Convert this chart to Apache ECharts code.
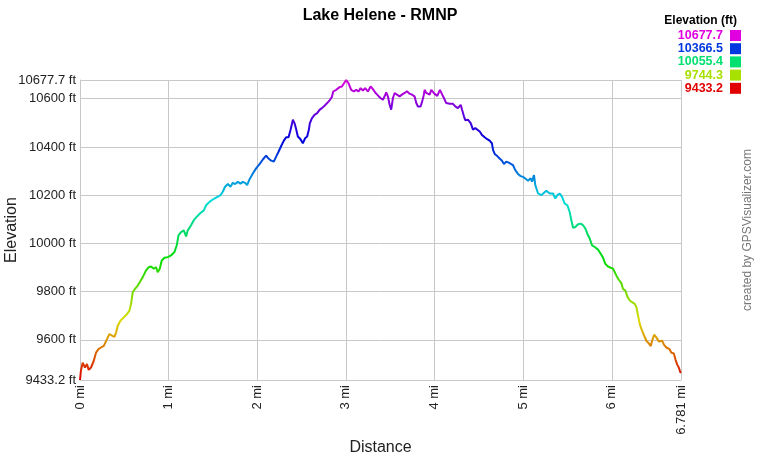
<!DOCTYPE html>
<html><head><meta charset="utf-8">
<script src="https://cdn.jsdelivr.net/npm/echarts@6/dist/echarts.min.js"></script>
<style>html,body{margin:0;padding:0;background:#fff}#c{width:760px;height:460px}</style>
</head><body><div id="c"></div>
<script>
const distanceMi = [0.00, 0.01, 0.03, 0.056, 0.079, 0.098, 0.124, 0.155, 0.181, 0.208, 0.237, 0.268, 0.282, 0.305, 0.332, 0.361, 0.388, 0.407, 0.426, 0.456, 0.501, 0.531, 0.558, 0.576, 0.595, 0.621, 0.651, 0.674, 0.708, 0.745, 0.776, 0.802, 0.832, 0.858, 0.877, 0.900, 0.922, 0.953, 0.990, 1.027, 1.066, 1.092, 1.111, 1.140, 1.171, 1.197, 1.216, 1.253, 1.284, 1.321, 1.359, 1.397, 1.423, 1.461, 1.498, 1.536, 1.585, 1.611, 1.637, 1.668,
  1.698, 1.724, 1.750, 1.781, 1.811, 1.837, 1.863, 1.886, 1.912, 1.950, 1.987, 2.026, 2.063, 2.100, 2.127, 2.157, 2.187, 2.213, 2.240, 2.270, 2.300, 2.326, 2.353, 2.376, 2.402, 2.421, 2.439, 2.458, 2.488, 2.514, 2.540, 2.563, 2.582, 2.593, 2.616, 2.646, 2.676, 2.703, 2.729, 2.759, 2.789, 2.816, 2.842, 2.857, 2.891, 2.929, 2.955, 2.977, 3.003, 3.030, 3.060, 3.090, 3.116, 3.143, 3.166, 3.192, 3.218, 3.248, 3.279, 3.305, 3.331, 3.361,
  3.392, 3.418, 3.437, 3.455, 3.474, 3.493, 3.511, 3.531, 3.550, 3.576, 3.606, 3.632, 3.663, 3.689, 3.718, 3.745, 3.775, 3.794, 3.813, 3.843, 3.861, 3.880, 3.888, 3.907, 3.926, 3.945, 3.963, 3.982, 4.001, 4.031, 4.061, 4.080, 4.087, 4.106, 4.132, 4.171, 4.208, 4.234, 4.264, 4.295, 4.310, 4.332, 4.347, 4.377, 4.408, 4.434, 4.460, 4.482, 4.510, 4.535, 4.566, 4.595, 4.622, 4.648, 4.660, 4.679, 4.708, 4.735, 4.761, 4.784, 4.810, 4.837, 4.859, 4.885, 4.911, 4.942, 4.972, 4.998, 5.024, 5.055,
  5.085, 5.100, 5.122, 5.137, 5.168, 5.205, 5.236, 5.262, 5.300, 5.337, 5.363, 5.386, 5.413, 5.439, 5.469, 5.499, 5.525, 5.544, 5.563, 5.589, 5.619, 5.650, 5.676, 5.702, 5.724, 5.751, 5.777, 5.808, 5.845, 5.875, 5.902, 5.927, 5.957, 5.988, 6.014, 6.033, 6.051, 6.079, 6.108, 6.127, 6.153, 6.176, 6.203, 6.229, 6.259, 6.278, 6.297, 6.316, 6.334, 6.365, 6.390, 6.418, 6.440, 6.455, 6.478, 6.503, 6.531, 6.553, 6.568, 6.590, 6.616, 6.632, 6.652, 6.671, 6.700, 6.718, 6.737, 6.756, 6.771, 6.781];
const elevationFt = [9433.2, 9471, 9505, 9485, 9499, 9475, 9485, 9512, 9547, 9561, 9568, 9575, 9582, 9603, 9624, 9617, 9612, 9630, 9658, 9679, 9695, 9707, 9721, 9749, 9797, 9811, 9825, 9839, 9860, 9888, 9901, 9904, 9895, 9901, 9880, 9895, 9929, 9940, 9943, 9950, 9964, 9992, 10033, 10047, 10054, 10029, 10054, 10075, 10096, 10112, 10126, 10137, 10158, 10172, 10182, 10190, 10200, 10214, 10235, 10246,
  10235, 10251, 10246, 10255, 10248, 10255, 10251, 10242, 10265, 10290, 10311, 10329, 10348, 10364, 10352, 10343, 10339, 10360, 10380, 10404, 10426, 10440, 10440, 10471, 10513, 10498, 10473, 10443, 10432, 10415, 10436, 10443, 10471, 10498, 10519, 10533, 10540, 10554, 10561, 10571, 10582, 10593, 10607, 10630, 10637, 10648, 10651, 10658, 10677.7, 10664, 10637, 10630, 10637, 10630, 10644, 10634, 10644, 10630, 10651, 10640, 10626, 10614,
  10602, 10596, 10610, 10626, 10610, 10576, 10555, 10603, 10624, 10617, 10610, 10617, 10624, 10631, 10621, 10617, 10610, 10582, 10568, 10568, 10589, 10617, 10637, 10624, 10631, 10617, 10637, 10634, 10620, 10612, 10637, 10637, 10617, 10603, 10582, 10579, 10579, 10568, 10561, 10575, 10555, 10527, 10511, 10513, 10499, 10472, 10478, 10485, 10464, 10450, 10440, 10432, 10426, 10415, 10388, 10371, 10362, 10352, 10343, 10329, 10339, 10335, 10339, 10325, 10304, 10288, 10279, 10276, 10269, 10260,
  10270, 10256, 10283, 10242, 10207, 10200, 10210, 10218, 10207, 10207, 10186, 10200, 10207, 10193, 10165, 10158, 10130, 10096, 10065, 10068, 10079, 10082, 10075, 10061, 10040, 10020, 9992, 9985, 9974, 9957, 9940, 9915, 9904, 9899, 9895, 9899, 9867, 9849, 9835, 9811, 9804, 9779, 9763, 9756, 9749, 9735, 9700, 9665, 9645, 9617, 9596, 9585, 9574, 9596, 9621, 9610, 9593, 9589, 9596, 9579, 9568, 9575, 9561, 9547, 9543, 9519, 9498, 9485, 9468, 9462];

const yTicks = [9433.2, 9600, 9800, 10000, 10200, 10400, 10600, 10677.7];
const xTicks = [0, 1, 2, 3, 4, 5, 6, 6.781];
const legendValues = ['10677.7', '10366.5', '10055.4', '9744.3', '9433.2'];
const legendColors = ['#e000e0', '#0038e0', '#00e070', '#a8e000', '#e00000'];

function hsv(h, s, v) {
  const f = n => { const k = (n + h / 60) % 6; return v - v * s * Math.max(Math.min(k, 4 - k, 1), 0); };
  const t = x => Math.round(x * 255).toString(16).padStart(2, '0');
  return '#' + t(f(5)) + t(f(3)) + t(f(1));
}
const ramp = [];
for (let h = 0; h <= 300; h += 10) ramp.push(hsv(h, 1, 0.86));

const FONT = '"Liberation Sans", Arial, sans-serif';
const chart = echarts.init(document.getElementById('c'), null, { renderer: 'canvas' });

const graphics = [
  { type: 'text', x: 737, y: 21, style: { text: 'Elevation (ft)', align: 'right', verticalAlign: 'middle', font: 'bold 12px ' + FONT, fill: '#000' } },
  { type: 'text', x: 748, y: 230, rotation: Math.PI / 2, style: { text: 'created by GPSVisualizer.com', align: 'center', verticalAlign: 'middle', font: '12px ' + FONT, fill: '#777' } }
];
legendValues.forEach((v, i) => {
  const y = 35.5 + i * 13.2;
  graphics.push({ type: 'text', x: 723, y: y, style: { text: v, align: 'right', verticalAlign: 'middle', font: 'bold 12.5px ' + FONT, fill: legendColors[i] } });
  graphics.push({ type: 'rect', shape: { x: 730, y: y - 5.5, width: 11, height: 11 }, style: { fill: legendColors[i] } });
});

chart.setOption({
  animation: false,
  backgroundColor: '#fff',
  title: { text: 'Lake Helene - RMNP', left: 'center', top: 3, textStyle: { fontSize: 16, fontWeight: 'bold', color: '#000', fontFamily: FONT } },
  grid: { left: 80, right: 79, top: 80, bottom: 80, containLabel: false, outerBoundsMode: 'none' },
  xAxis: {
    type: 'value', min: 0, max: 6.781,
    name: 'Distance', nameLocation: 'middle', nameGap: 60, nameMoveOverlap: false,
    nameTextStyle: { fontSize: 16, color: '#222', fontFamily: FONT },
    axisLine: { show: true, lineStyle: { color: '#c8c8c8' } },
    axisTick: { show: false, customValues: xTicks },
    axisLabel: { customValues: xTicks, rotate: 90, margin: 5, fontSize: 13, color: '#222', fontFamily: FONT, formatter: v => v + ' mi' },
    splitLine: { show: true, lineStyle: { color: '#c8c8c8', width: 1 } }
  },
  yAxis: {
    type: 'value', min: 9433.2, max: 10677.7,
    name: 'Elevation', nameLocation: 'middle', nameGap: 60, nameMoveOverlap: false,
    nameTextStyle: { fontSize: 16, color: '#222', fontFamily: FONT },
    axisLine: { show: true, lineStyle: { color: '#c8c8c8' } },
    axisTick: { show: false, customValues: yTicks },
    axisLabel: { customValues: yTicks, margin: 4, fontSize: 13, color: '#222', fontFamily: FONT, formatter: v => v + ' ft' },
    splitLine: { show: true, lineStyle: { color: '#c8c8c8', width: 1 } }
  },
  visualMap: { type: 'continuous', show: false, min: 9433.2, max: 10677.7, dimension: 1, seriesIndex: 0, inRange: { color: ramp } },
  series: [{
    type: 'line', showSymbol: false, symbol: 'none',
    lineStyle: { width: 2 },
    data: distanceMi.map((d, i) => [d, elevationFt[i]])
  }],
  graphic: graphics
});
</script></body></html>
